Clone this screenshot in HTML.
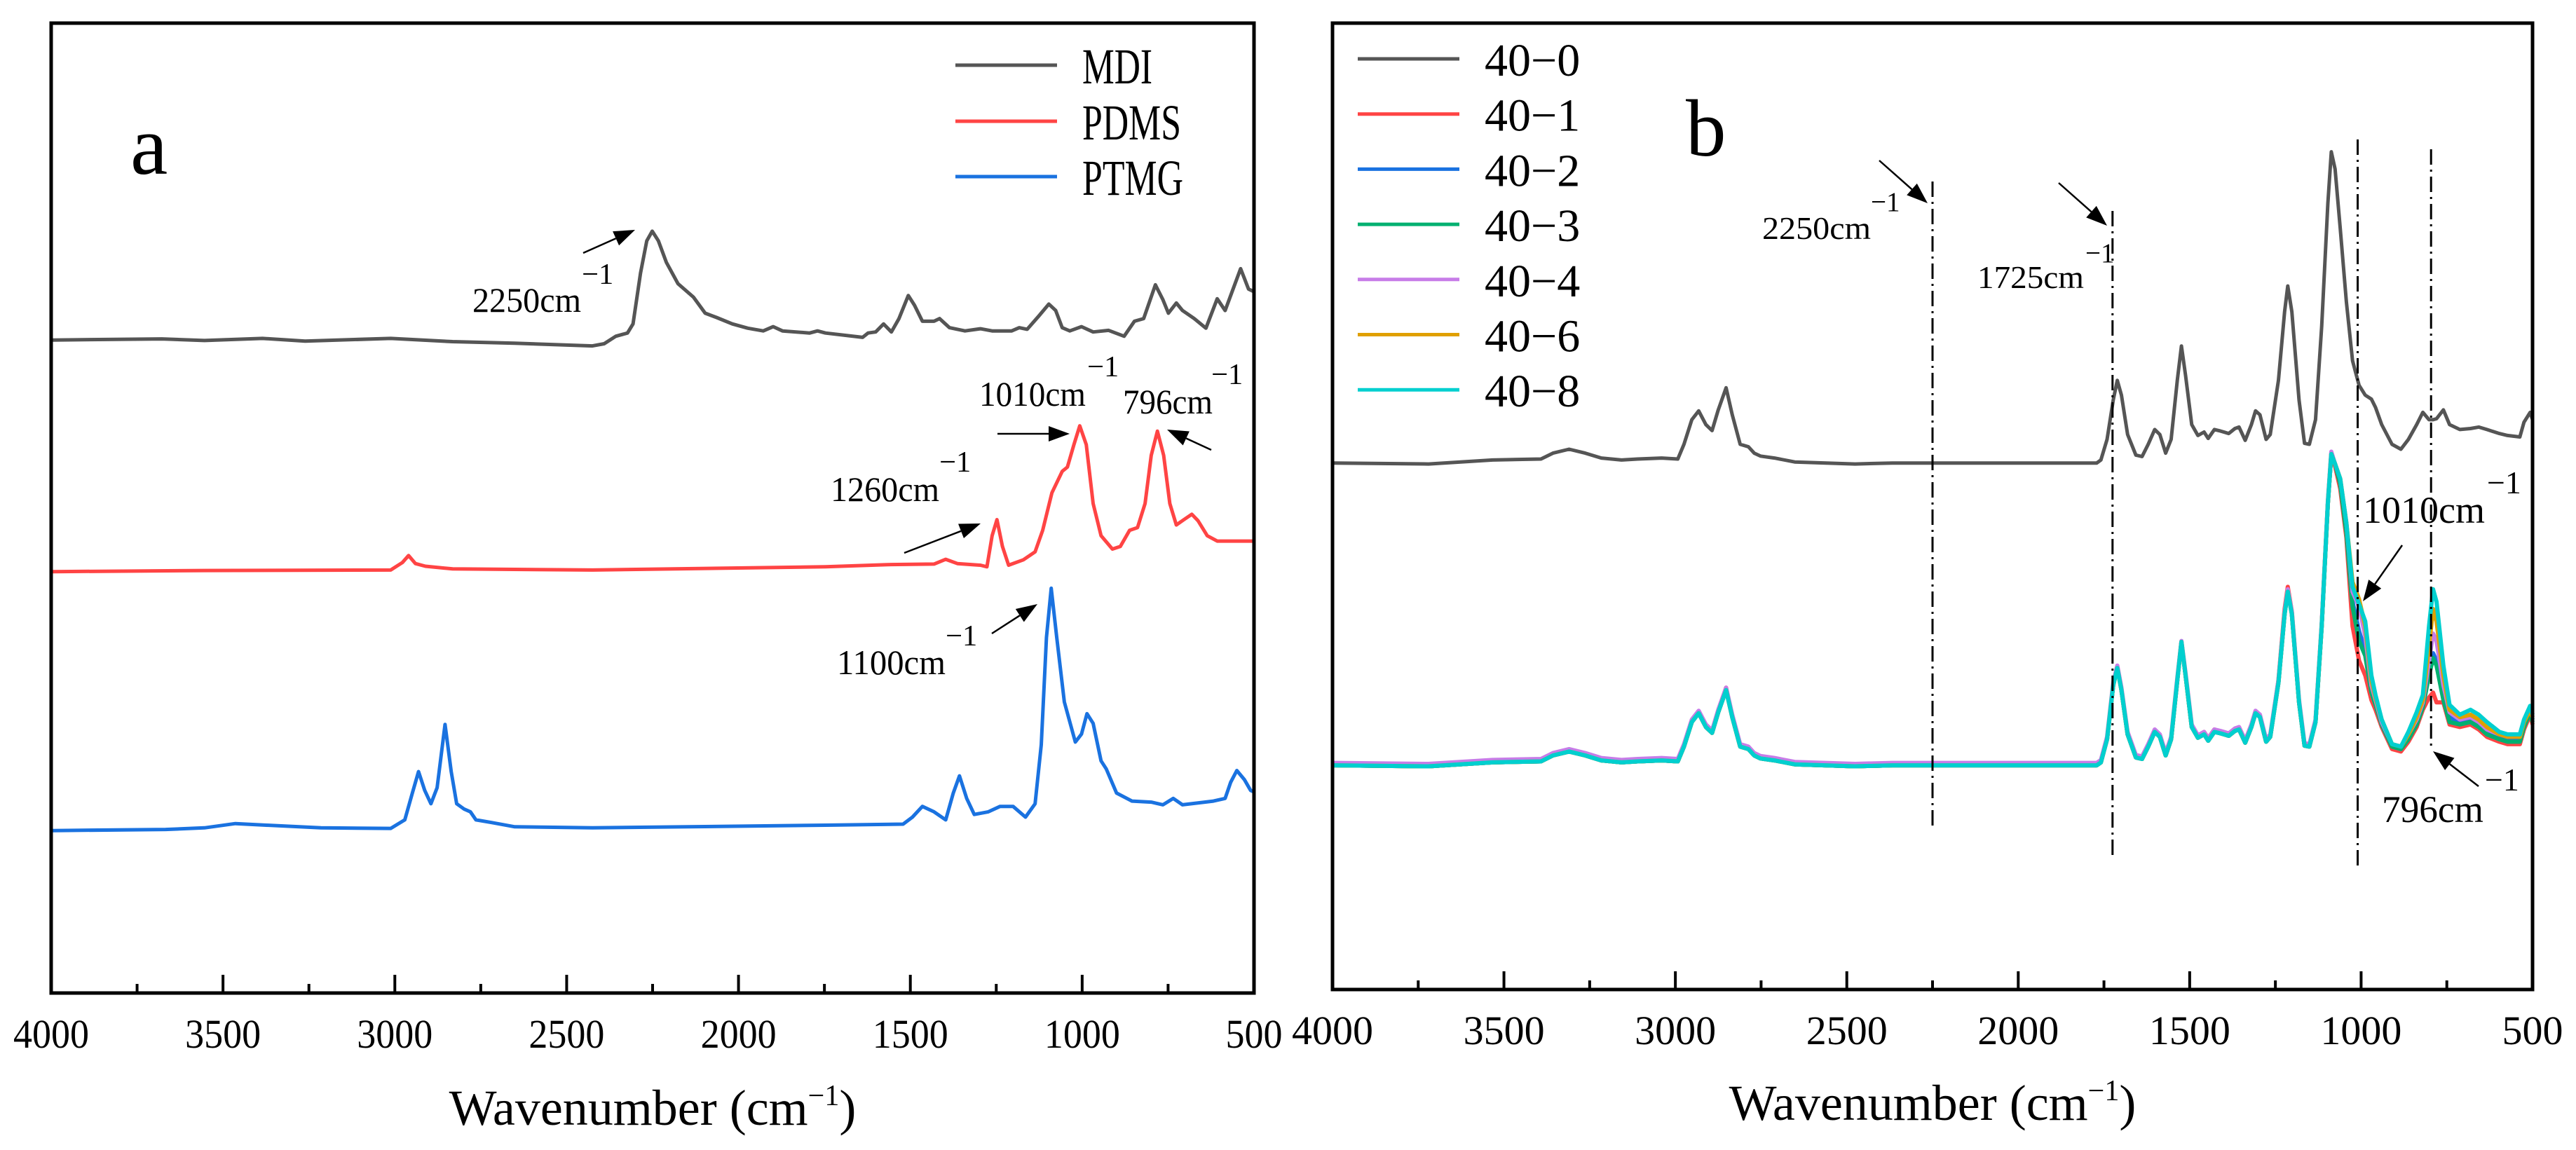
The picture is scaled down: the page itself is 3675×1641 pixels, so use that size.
<!DOCTYPE html>
<html><head><meta charset="utf-8"><title>FTIR spectra</title>
<style>
html,body{margin:0;padding:0;background:#fff;}
svg{display:block;}
svg text{font-family:"Liberation Serif","DejaVu Serif",serif;}
</style></head>
<body>
<svg id="fig" width="3675" height="1641" viewBox="0 0 3675 1641" xmlns="http://www.w3.org/2000/svg">
<rect x="0" y="0" width="3675" height="1641" fill="#fff"/>
<g id="pa"></g>
<g id="pb"></g>
</svg>
<script>
// ---------------- Panel a data ----------------
const mdiWave = [3995,3678,3554,3385,3261,3012,2832,2651,2425,2391,2357,2323,2307,2285,2267,2251,2233,2210,2176,2131,2097,2064,2018,1973,1928,1899,1872,1793,1770,1747,1639,1623,1601,1578,1555,1533,1506,1488,1465,1431,1415,1386,1341,1296,1262,1205,1183,1160,1126,1097,1077,1058,1036,1002,968,923,878,848,821,787,765,749,726,708,674,640,607,584,539,516,500];
const mdiVal = [96.5,96.7,96.4,96.8,96.3,96.8,96.2,95.9,95.4,95.8,97.2,97.8,99.5,109,115,116.8,115,111,107,104.5,101.5,100.7,99.5,98.7,98.2,99,98.2,97.8,98.2,97.8,97,97.8,98,99.5,98,100.5,104.8,103,100,100,100.5,98.8,98.2,98.6,98.2,98.2,98.8,98.5,101,103.2,102,98.8,98.2,99,98,98.3,97.2,100,100.5,106.8,104,101.5,103.4,102,100.5,98.7,104.2,102,109.8,106,105.5];
const pdmsWave = [3995,3554,3012,2978,2960,2940,2911,2832,2425,1747,1567,1431,1397,1363,1296,1277,1262,1248,1232,1214,1171,1137,1115,1088,1058,1043,1024,1007,988,968,945,912,889,862,839,817,799,781,763,745,726,704,681,663,636,607,500];
const pdmsVal = [53.3,53.5,53.6,55,56.3,54.8,54.3,53.8,53.6,54.2,54.6,54.7,55.6,54.8,54.5,54.2,60,63,58,54.5,55.5,57,61,68,72,72.8,77,80.5,77,66,60,57.5,58,61,61.5,66,75,79.5,75,66,62,63,64,62.8,60,59,59];
const ptmgWave = [3995,3667,3554,3464,3374,3215,3012,2971,2949,2931,2913,2895,2877,2854,2836,2820,2798,2780,2764,2719,2651,2425,1747,1521,1494,1465,1431,1397,1375,1357,1336,1314,1273,1239,1201,1165,1137,1119,1104,1090,1074,1052,1020,1002,986,968,945,930,900,855,799,765,735,708,618,584,568,550,528,510,500];
const ptmgVal = [5,5.2,5.5,6.3,6,5.5,5.4,7,12,16,12.5,10,13,24.8,16,10,9,8.5,7,6.5,5.7,5.5,6,6.2,7.5,9.5,8.5,7,12,15.2,11,8,8.5,9.5,9.5,7.5,10,21,41,50.2,41,29,21.5,23,26.8,25,18,16.5,12,10.5,10.3,9.8,11,9.8,10.5,11,14,16.2,14.5,12.5,12.2];
const aTicks = [4000,3500,3000,2500,2000,1500,1000,500];
const aLegend = ["MDI","PDMS","PTMG"];

// ---------------- Panel b data ----------------
const bWave = [3996,3720,3533,3392,3357,3310,3263,3216,3157,3110,3040,2993,2975,2952,2932,2911,2893,2875,2852,2834,2811,2787,2770,2752,2711,2652,2476,2367,1861,1771,1759,1741,1723,1711,1699,1681,1657,1639,1621,1602,1587,1570,1554,1536,1524,1512,1494,1476,1458,1446,1428,1410,1386,1368,1356,1338,1320,1308,1295,1277,1265,1241,1223,1214,1202,1181,1165,1151,1133,1115,1097,1087,1076,1061,1043,1025,1006,988,970,958,940,910,884,862,838,820,802,790,780,760,742,712,681,657,633,597,573,537,525,507,500];
const s400 = [83.2,83,83.8,84,85.2,86,85.2,84.2,83.8,84,84.2,84,87,92,93.8,91,89.8,94,98.5,93,87,86.5,85.2,84.6,84.2,83.4,83,83.2,83.2,83.2,83.8,88,96,100,97,89,84.8,84.5,87,90,89,85.2,88,100,107,101,91,88.8,89.5,88.2,90,89.7,89.2,90.2,90.5,87.8,91,93.8,93,88,89,100,114,119.2,114,96,87.2,87,92,111,136,146.5,143,131,116,104,99,97,96.2,94.5,91,87,86,88,91,93.5,92,92,92.2,94,91,90,90.2,90.5,90,89.2,88.8,88.5,91.5,93.5,92];
const s401 = [21.7,21.5,22.3,22.5,23.7,24.5,23.7,22.7,22.3,22.5,22.7,22.5,25.5,30.5,32.3,29.5,28.3,32.5,37.5,31.5,25.5,25,23.7,23.1,22.7,21.9,21.5,21.7,21.7,21.7,22.3,27,38,41.5,37,28,23.3,23,25.5,28.5,27.5,23.7,27,39,46.8,40,29.5,27.3,28.5,27.2,29,28.4,27.7,28.7,29,26.3,29.5,32.3,31.5,26.5,27.5,39,53.5,58,53,34.5,25.7,25.5,30.5,50,75,85,82.5,78,68,50,43,40,35,33,29.5,25,24.5,26.5,29.5,33,35.5,36.5,34.5,34.5,30,29.5,30,29,27.5,26.5,26,26,29,32,30];
const s402 = [21.7,21.5,22.3,22.5,23.7,24.5,23.7,22.7,22.3,22.5,22.7,22.5,25.5,30.5,32.3,29.5,28.3,32.5,37,31.5,25.5,25,23.7,23.1,22.7,21.9,21.5,21.7,21.7,21.7,22.3,27,38,41.5,37,28,23.3,23,25.5,28.5,27.5,23.7,27,39,46.8,40,29.5,27.3,28,26.7,28.5,28.2,27.7,28.7,29,26.3,29.5,32.3,31.5,26.5,27.5,38.5,52.5,57,52.5,34.5,25.7,25.5,30.5,50,75,85,83,79,70,55,49,45,37,34.5,30,25.5,25,27.5,30.5,34,41,44.5,43,36,31.5,30.5,31,30,28.5,27.5,27,27,30,33,31];
const s403 = [21.7,21.5,22.3,22.5,23.7,24.5,23.7,22.7,22.3,22.5,22.7,22.5,25.5,30.5,32.3,29.5,28.3,32.5,37,31.5,25.5,25,23.7,23.1,22.7,21.9,21.5,21.7,21.7,21.7,22.3,27,38,41.5,37,28,23.3,23,25.5,28.5,27.5,23.7,27,39,46.8,40,29.5,27.3,28,26.7,28.5,28.2,27.7,28.7,29,26.3,29.5,32.3,31.5,26.5,27.5,38.5,52.5,57,52.5,34.5,25.7,25.5,30.5,50,75,85,83,79,69,54,47,44,36.5,34,30,25.5,25,27,30,33.5,40,43.5,42,35,30.5,30,30.5,29.5,28,27,26.5,26.5,29.5,32.5,30.5];
const s404 = [22.2,22,22.8,23,24.2,25,24.2,23.2,22.8,23,23.2,23,26,31,32.8,30,28.8,33,37.5,32,26,25.5,24.2,23.6,23.2,22.4,22,22.2,22.2,22.2,22.8,27.5,38.5,42,37.5,28.5,23.8,23.5,26,29,28,24.2,27.5,39.5,47,40.5,30,27.8,28.5,27.2,29,28.7,28.2,29.2,29.5,26.8,30,32.8,32,27,28,39,53,57.5,53,35,26.2,26,31,50.5,75.5,85.5,83,80,71,57,54,48,38,35,30.5,26,25.5,28,31,34.5,43,48.5,47,38,32.5,31,31.5,30.5,29,28,27.5,27.5,30.5,33.5,31.5];
const s406 = [21.7,21.5,22.3,22.5,23.7,24.5,23.7,22.7,22.3,22.5,22.7,22.5,25.5,30.5,32.3,29.5,28.3,32.5,37,31.5,25.5,25,23.7,23.1,22.7,21.9,21.5,21.7,21.7,21.7,22.3,27,38,41.5,37,28,23.3,23,25.5,28.5,27.5,23.7,27,39,46.8,40,29.5,27.3,28,26.7,28.5,28.2,27.7,28.7,29,26.3,29.5,32.3,31.5,26.5,27.5,38.5,52.5,57,52.5,34.5,25.7,25.5,30.5,50,75,85,83,80,71,59,55.5,50,39,35.5,31,26,25.5,28,31.5,35,46,53.5,51,40,33,31.5,32,31,29.5,28,27.5,27.5,30.5,33,31.5];
const s408 = [21.7,21.5,22.3,22.5,23.7,24.5,23.7,22.7,22.3,22.5,22.7,22.5,25.5,30.5,32.3,29.5,28.3,32.5,37,31.5,25.5,25,23.7,23.1,22.7,21.9,21.5,21.7,21.7,21.7,22.3,27,38,41.5,37,28,23.3,23,25.5,28.5,27.5,23.7,27,39,46.8,40,29.5,27.3,28,26.7,28.5,28.2,27.7,28.7,29,26.3,29.5,32.3,31.5,26.5,27.5,38.5,52.5,57,52.5,34.5,25.7,25.5,30.5,50,75,85,83,80,71,58,54.5,51,40,36,31,26,25.5,28.5,32.5,36,50,57.5,55,42,34,32,33,32,30.5,28.5,28,28,31,33.8,32];
const bTicks = [4000,3500,3000,2500,2000,1500,1000,500];
const bLegend = ["40\u22120","40\u22121","40\u22122","40\u22123","40\u22124","40\u22126","40\u22128"];
const bMarkers = [2250,1725,1010,796];

// ---------------- helpers ----------------
const NS = "http://www.w3.org/2000/svg";
const SERIF = '"Liberation Serif", "DejaVu Serif", serif';
function mk(parent, tag, attrs, text){
  const e = document.createElementNS(NS, tag);
  for (const k in attrs) e.setAttribute(k, attrs[k]);
  if (tag === "text") e.setAttribute("font-family", SERIF);
  if (text !== undefined) e.textContent = text;
  parent.appendChild(e);
  return e;
}
function axisX(left, right){ return w => left + (4000 - w) / 3500 * (right - left); }
function axisY(yPix0, slope){ return v => yPix0 - slope * v; }
function linePath(ws, vs, sx, sy){
  let d = "";
  for (let i = 0; i < ws.length; i++) d += (i ? "L" : "M") + sx(ws[i]).toFixed(1) + "," + sy(vs[i]).toFixed(1);
  return d;
}
function drawAxes(g, left, right, top, bottom, ticks, sx, titleCx, titleY, condensed){
  const frame = mk(g, "rect", {x:left, y:top, width:right-left, height:bottom-top, fill:"none", stroke:"#000", "stroke-width":5});
  
  
  for (let i = 0; i < ticks.length; i++){
    const w = ticks[i];
    const x = sx(w);
    if (i > 0 && i < ticks.length - 1){
      const t = mk(g, "line", {x1:x, x2:x, y1:bottom, y2:bottom-26, stroke:"#000", "stroke-width":4});
      
      
    }
    if (i < ticks.length - 1){
      const xm = sx(w - 250);
      const tm = mk(g, "line", {x1:xm, x2:xm, y1:bottom, y2:bottom-13, stroke:"#000", "stroke-width":4});
      
      
    }
    const la = {x:x, y:bottom+78, "font-size":58, "text-anchor":"middle", fill:"#000"};
    if (condensed){ la.textLength = String(w).length * 27; la.lengthAdjust = "spacingAndGlyphs"; }
    const lbl = mk(g, "text", la, String(w));
    
    
  }
  const title = mk(g, "text", {x:titleCx, y:titleY, "font-size":72, "text-anchor":"middle", fill:"#000"});
  
  
  mk(title, "tspan", {}, "Wavenumber (cm");
  mk(title, "tspan", {dy:-28, "font-size":42}, "\u22121");
  mk(title, "tspan", {dy:28}, ")");
}
function label(g, name, x, y, size, txt, len, supX, supY){
  const t = mk(g, "text", {x:x, y:y, "font-size":size, fill:"#000", textLength:len, lengthAdjust:"spacingAndGlyphs"}, txt);
  
  
  const s = mk(g, "text", {x:supX, y:supY, "font-size":size*0.85, fill:"#000"}, "\u22121");
  
  
}
function arrow(g, name, x1, y1, x2, y2){
  const ang = Math.atan2(y2 - y1, x2 - x1);
  const L = 30, W = 11;
  const bx = x2 - L * Math.cos(ang), by = y2 - L * Math.sin(ang);
  const l = mk(g, "line", {x1:x1, y1:y1, x2:bx, y2:by, stroke:"#000", "stroke-width":2.5});
  
  
  const p1x = bx + W * Math.sin(ang), p1y = by - W * Math.cos(ang);
  const p2x = bx - W * Math.sin(ang), p2y = by + W * Math.cos(ang);
  const h = mk(g, "polygon", {points: x2+","+y2+" "+p1x+","+p1y+" "+p2x+","+p2y, fill:"#000"});
  
  
}

// ---------------- Panel a ----------------
(function(){
  const g = document.getElementById("pa");
  const L = 73, R = 1789, T = 33, B = 1417;
  const sx = axisX(L, R);
  const sy = axisY(1223.4, 7.65);
  const series = [[mdiWave, mdiVal, "#555555", "mdi-line"], [pdmsWave, pdmsVal, "#ff4444", "pdms-line"], [ptmgWave, ptmgVal, "#1a72e0", "ptmg-line"]];
  for (const s of series){
    const p = mk(g, "path", {d: linePath(s[0], s[1], sx, sy), fill:"none", stroke:s[2], "stroke-width":5, "stroke-linejoin":"round"});
    
    
  }
  drawAxes(g, L, R, T, B, aTicks, sx, 931, 1605, true);
  const pl = mk(g, "text", {x:186, y:248, "font-size":120, fill:"#000"}, "a");
  
  
  const lc = ["#555555", "#ff4444", "#1a72e0"];
  const ly = [93, 173, 252];
  const lw = [100, 141, 144];
  for (let i = 0; i < aLegend.length; i++){
    const ln = mk(g, "line", {x1:1363, x2:1508, y1:ly[i], y2:ly[i], stroke:lc[i], "stroke-width":5});
    
    
    const tx = mk(g, "text", {x:1544, y:ly[i] + 26, "font-size":72, fill:"#000", textLength:lw[i], lengthAdjust:"spacingAndGlyphs"}, aLegend[i]);
    
    
  }
  label(g, "a-2250-label", 674, 445, 50, "2250cm", 155, 830, 405);
  arrow(g, "a-2250-arrow", 832, 361, 906, 328);
  label(g, "a-1010-label", 1397, 579, 50, "1010cm", 152, 1551, 537);
  arrow(g, "a-1010-arrow", 1423, 619, 1526, 619);
  label(g, "a-796-label", 1602, 590, 50, "796cm", 128, 1728, 548);
  arrow(g, "a-796-arrow", 1728, 642, 1665, 613);
  label(g, "a-1260-label", 1185, 715, 50, "1260cm", 155, 1340, 673);
  arrow(g, "a-1260-arrow", 1290, 789, 1399, 747);
  label(g, "a-1100-label", 1194, 962, 50, "1100cm", 155, 1349, 921);
  arrow(g, "a-1100-arrow", 1415, 904, 1480, 862);
})();

// ---------------- Panel b ----------------
(function(){
  const g = document.getElementById("pb");
  const L = 1901, R = 3613, T = 33, B = 1412;
  const sx = axisX(L, R);
  const sy = axisY(1244.3, 7.015);
  const series = [[s400, "#555555", "series-40-0"], [s401, "#ff4444", "series-40-1"], [s402, "#1a72e0", "series-40-2"], [s403, "#00b070", "series-40-3"], [s404, "#c77ce8", "series-40-4"], [s406, "#e0a000", "series-40-6"], [s408, "#00cfcf", "series-40-8"]];
  for (const s of series){
    const p = mk(g, "path", {d: linePath(bWave, s[0], sx, sy), fill:"none", stroke:s[1], "stroke-width":s[2]==="series-40-0"?5:6, "stroke-linejoin":"round"});
    
    
  }
  const mTop = [259, 301, 199, 213], mBot = [1181, 1223, 1237, 1069];
  for (let i = 0; i < bMarkers.length; i++){
    const x = sx(bMarkers[i]);
    const ml = mk(g, "line", {x1:x, x2:x, y1:mTop[i], y2:mBot[i], stroke:"#000", "stroke-width":3, "stroke-dasharray":"22 7 3 7"});
    
    
  }
  drawAxes(g, L, R, T, B, bTicks, sx, 2757, 1598, false);
  const pl = mk(g, "text", {x:2405, y:222, "font-size":115, fill:"#000"}, "b");
  
  
  const lc = ["#555555", "#ff4444", "#1a72e0", "#00b070", "#c77ce8", "#e0a000", "#00cfcf"];
  for (let i = 0; i < bLegend.length; i++){
    const y = 84 + i * 78.7;
    const ln = mk(g, "line", {x1:1937, x2:2082, y1:y, y2:y, stroke:lc[i], "stroke-width":5});
    
    
    const tx = mk(g, "text", {x:2118, y:y + 24, "font-size":66, fill:"#000"}, bLegend[i]);
    
    
  }
  label(g, "b-2250-label", 2514, 341, 46, "2250cm", 155, 2669, 301);
  arrow(g, "b-2250-arrow", 2681, 229, 2750, 290);
  label(g, "b-1725-label", 2821, 411, 46, "1725cm", 152, 2975, 374);
  arrow(g, "b-1725-arrow", 2937, 261, 3006, 322);
  label(g, "b-1010-label", 3371, 746, 54, "1010cm", 174, 3548, 704);
  arrow(g, "b-1010-arrow", 3427, 778, 3371, 858);
  label(g, "b-796-label", 3398, 1173, 54, "796cm", 145, 3545, 1128);
  arrow(g, "b-796-arrow", 3536, 1122, 3471, 1072);
})();
</script>
</body></html>
